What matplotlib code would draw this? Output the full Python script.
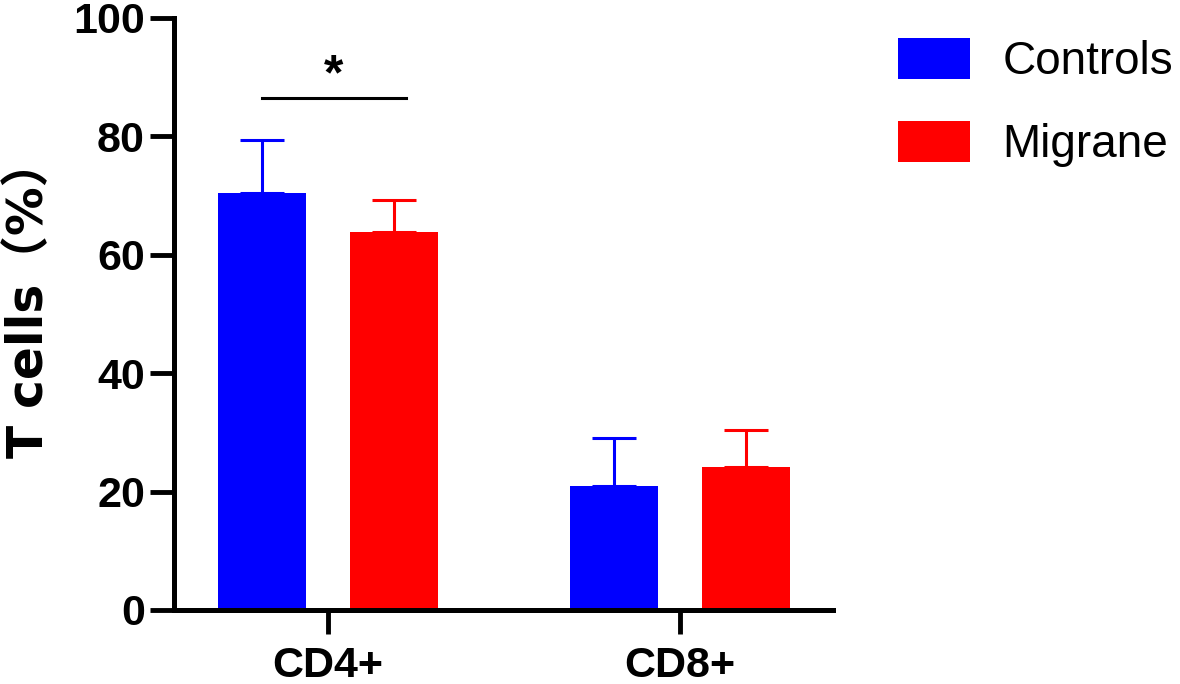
import numpy as np
import matplotlib
matplotlib.use('Agg')
import matplotlib.pyplot as plt

# 폰트 설정 (전각 괄호는 CJK 폰트로)
plt.rcParams['font.family'] = ['Liberation Sans', 'Noto Sans CJK SC', 'DejaVu Sans']

groups = ['CD4+', 'CD8+']
series = ['Controls', 'Migrane']
controls_mean = [70.4, 20.9]
controls_sd = [9.0, 8.2]
migrane_mean = [63.9, 24.2]
migrane_sd = [5.4, 6.2]
y_ticks = [0, 20, 40, 60, 80, 100]

blue = '#0000FF'
red = '#FF0000'

fig = plt.figure(figsize=(11.8, 6.84), dpi=100)
ax = fig.add_axes([0.1475, 0.1082, 0.706 - 0.1475, 0.9737 - 0.1082])

x = np.arange(len(groups))
w = 0.25
off = 0.1875

ax.bar(x - off, controls_mean, w, color=blue, label=series[0], zorder=2)
ax.bar(x + off, migrane_mean, w, color=red, label=series[1], zorder=2)
# 위쪽 에러바만
ax.errorbar(x - off, controls_mean, yerr=[np.zeros(2), controls_sd], fmt='none',
            ecolor=blue, elinewidth=2.2, capsize=16, capthick=2.2, zorder=1)
ax.errorbar(x + off, migrane_mean, yerr=[np.zeros(2), migrane_sd], fmt='none',
            ecolor=red, elinewidth=2.2, capsize=16, capthick=2.2, zorder=1)

# 유의성 표시
ax.plot([-off, off + 0.034], [86.5, 86.5], color='black', lw=2.2)
ax.text(0.017, 86.3, '*', ha='center', va='bottom', fontsize=36, fontweight='bold')

ax.set_xlim(-0.4375, 1.4347)
ax.set_ylim(0, 100)
ax.set_yticks(y_ticks)
ax.set_xticks(x)
ax.set_xticklabels(groups, fontsize=31, fontweight='bold')
ax.set_yticklabels([str(t) for t in y_ticks], fontsize=31, fontweight='bold')
ax.tick_params(axis='both', length=17, width=3.5, pad=4)
ax.tick_params(axis='x', pad=9)

for s in ['top', 'right']:
    ax.spines[s].set_visible(False)
for s in ['left', 'bottom']:
    ax.spines[s].set_linewidth(3.6)

# y축 라벨은 원본이 가로로 늘어나 있어서 넓은 폰트 사용
ax.set_ylabel('T cells（%）', fontsize=35, fontweight='bold',
              family=['DejaVu Sans', 'Noto Sans CJK SC'])
ax.yaxis.set_label_coords(-0.183, 0.527)

ax.legend(loc='upper left', bbox_to_anchor=(0.742, 0.978), bbox_transform=fig.transFigure,
          frameon=False, fontsize=33, handlelength=1.57, handleheight=1.0,
          handletextpad=0.7, labelspacing=0.8, borderpad=0)

fig.savefig('out.png', dpi=100)
